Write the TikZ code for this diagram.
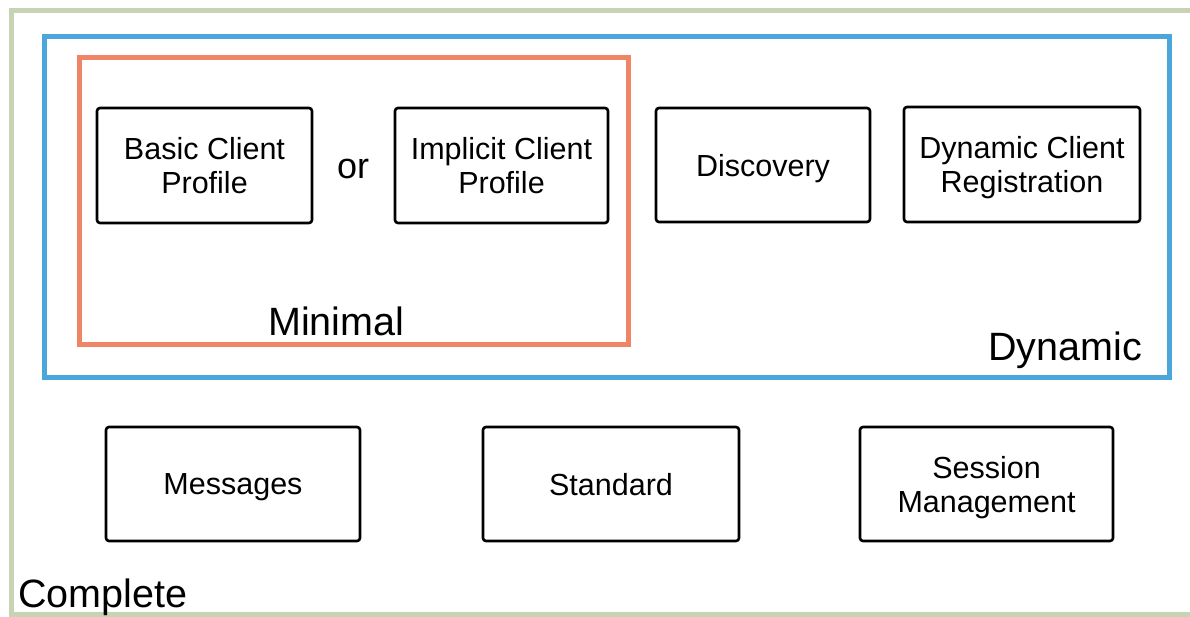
\documentclass[tikz,border=0pt]{standalone}
\usepackage{fontspec}
\setmainfont{Liberation Sans}
\definecolor{completegreen}{HTML}{C6D4B4}
\definecolor{dynamicblue}{HTML}{4AA6DB}
\definecolor{minimalorange}{HTML}{EE8666}
\tikzset{
    profile/.style={draw, line width=2.6pt, rounded corners=3pt, inner sep=0pt, align=center,
        text depth=0pt, font=\fontsize{30.5}{34}\selectfont},
    setlabel/.style={anchor=base west, inner sep=0pt, font=\fontsize{39.5}{44}\selectfont}
}
\begin{document}
\begin{tikzpicture}[x=1pt, y=-1pt]
            \useasboundingbox (0,0) rectangle (1190,616);
            \draw[completegreen, line width=5pt] (1195,10) -- (11,10) -- (11,614) -- (1195,614);
            \draw[dynamicblue, line width=5pt] (44,36) rectangle (1169,377);
            \draw[minimalorange, line width=5pt] (79,57) rectangle (628,344);

            \node[profile, minimum width=215pt, minimum height=115pt] (basic) at (204.5,165.5) {Basic Client\\Profile};
            \node[profile, minimum width=213pt, minimum height=115pt] (implicit) at (501.5,165.5) {Implicit Client\\Profile};
            \node[profile, minimum width=214pt, minimum height=114pt] (discovery) at (763,165) {Discovery};
            \node[profile, minimum width=236pt, minimum height=115pt] (registration) at (1022,164.5) {Dynamic Client\\Registration};

            \node[profile, minimum width=254pt, minimum height=114pt] (messages) at (233,484) {Messages};
            \node[profile, minimum width=256pt, minimum height=114pt] (standard) at (611,484) {Standard};
            \node[profile, minimum width=253pt, minimum height=114pt] (session) at (986.5,484) {Session\\Management};

            \node[setlabel, font=\fontsize{36}{40}\selectfont] (or) at (337,178) {or};
            \node[setlabel] (minimal) at (268,335) {Minimal};
            \node[setlabel] (dynamic) at (988,360) {Dynamic};
            \node[setlabel] (complete) at (18,607) {Complete};
\end{tikzpicture}
\end{document}
